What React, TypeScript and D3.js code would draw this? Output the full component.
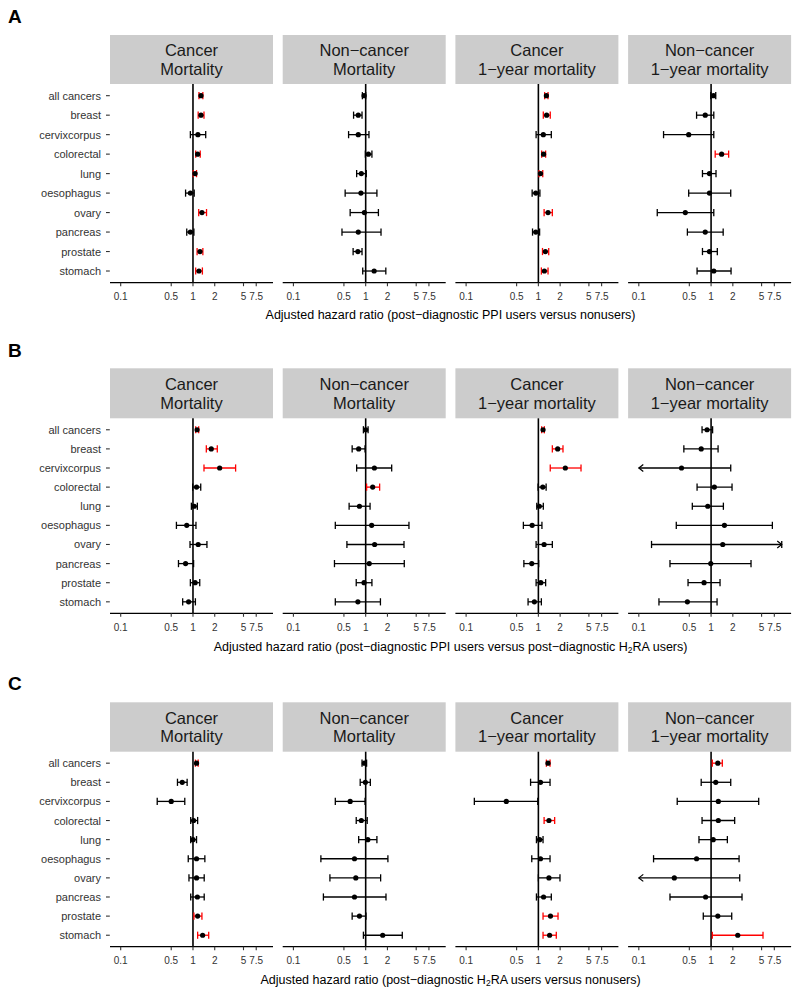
import React from "react";
import * as d3 from "d3";

// ---------- data ----------
const categories = [
  "all cancers",
  "breast",
  "cervixcorpus",
  "colorectal",
  "lung",
  "oesophagus",
  "ovary",
  "pancreas",
  "prostate",
  "stomach",
];

const facetTitles = [
  ["Cancer", "Mortality"],
  ["Non\u2212cancer", "Mortality"],
  ["Cancer", "1\u2212year mortality"],
  ["Non\u2212cancer", "1\u2212year mortality"],
];

const tickValues = [0.1, 0.5, 1, 2, 5, 7.5];
const tickLabels = ["0.1", "0.5", "1", "2", "5", "7.5"];
const panelLetters = ["A", "B", "C"];

// axis titles: odd-indexed pieces are subscripts
const titleA = ["Adjusted hazard ratio (post\u2212diagnostic PPI users versus nonusers)"];
const titleB = ["Adjusted hazard ratio (post\u2212diagnostic PPI users versus post\u2212diagnostic H", "2", "RA users)"];
const titleC = ["Adjusted hazard ratio (post\u2212diagnostic H", "2", "RA users versus nonusers)"];

// [hazard ratio, lower CI, upper CI], rows in category order
// A: post-diagnostic PPI users vs nonusers
const ppiNon_cancer = [
  [1.29, 1.21, 1.37], [1.29, 1.18, 1.42], [1.17, 0.92, 1.5], [1.16, 1.09, 1.26], [1.07, 1.01, 1.12],
  [0.92, 0.79, 1.04], [1.33, 1.2, 1.54], [0.92, 0.82, 1.03], [1.25, 1.14, 1.37], [1.21, 1.09, 1.35],
];
const ppiNon_noncancer = [
  [0.95, 0.9, 1.0], [0.79, 0.68, 0.89], [0.79, 0.58, 1.11], [1.09, 0.99, 1.22], [0.87, 0.75, 1.02],
  [0.86, 0.52, 1.43], [0.96, 0.61, 1.5], [0.79, 0.47, 1.63], [0.78, 0.67, 0.89], [1.31, 0.91, 1.9],
];
const ppiNon_cancer1y = [
  [1.29, 1.22, 1.36], [1.3, 1.17, 1.46], [1.17, 0.93, 1.51], [1.18, 1.11, 1.26], [1.07, 1.02, 1.15],
  [0.92, 0.82, 1.05], [1.36, 1.2, 1.56], [0.92, 0.83, 1.04], [1.25, 1.14, 1.39], [1.21, 1.1, 1.36],
];
const ppiNon_noncancer1y = [
  [1.08, 0.99, 1.16], [0.83, 0.63, 1.09], [0.49, 0.22, 1.09], [1.4, 1.14, 1.75], [0.95, 0.76, 1.17],
  [0.95, 0.49, 1.87], [0.44, 0.18, 1.09], [0.83, 0.47, 1.47], [0.95, 0.76, 1.22], [1.09, 0.64, 1.89],
];
// B: post-diagnostic PPI users vs post-diagnostic H2RA users
const ppiH2_cancer = [
  [1.14, 1.09, 1.2], [1.79, 1.53, 2.17], [2.34, 1.42, 3.89], [1.12, 0.99, 1.28], [1.04, 0.95, 1.15],
  [0.82, 0.59, 1.1], [1.18, 0.91, 1.56], [0.79, 0.63, 1.02], [1.07, 0.92, 1.24], [0.87, 0.72, 1.08],
];
const ppiH2_noncancer = [
  [1.0, 0.93, 1.08], [0.8, 0.65, 0.98], [1.32, 0.75, 2.29], [1.25, 1.03, 1.56], [0.82, 0.59, 1.15],
  [1.21, 0.38, 3.97], [1.33, 0.55, 3.39], [1.12, 0.37, 3.42], [0.95, 0.74, 1.22], [0.78, 0.38, 1.6],
];
const ppiH2_cancer1y = [
  [1.16, 1.11, 1.21], [1.85, 1.56, 2.19], [2.36, 1.46, 3.89], [1.15, 0.99, 1.28], [1.03, 0.95, 1.17],
  [0.82, 0.62, 1.12], [1.2, 0.93, 1.56], [0.81, 0.63, 1.01], [1.08, 0.93, 1.26], [0.88, 0.72, 1.1],
];
const ppiH2_noncancer1y = [
  [0.88, 0.75, 1.05], [0.73, 0.42, 1.25], [0.39, 0.05, 1.87], [1.11, 0.64, 1.95], [0.9, 0.55, 1.48],
  [1.53, 0.33, 7.05], [1.45, 0.15, 14.0], [0.99, 0.27, 3.57], [0.8, 0.48, 1.33], [0.47, 0.19, 1.21],
];
// C: post-diagnostic H2RA users vs nonusers
const h2Non_cancer = [
  [1.12, 1.08, 1.18], [0.71, 0.61, 0.83], [0.5, 0.32, 0.77], [1.02, 0.93, 1.16], [1.0, 0.93, 1.12],
  [1.12, 0.86, 1.46], [1.12, 0.88, 1.43], [1.15, 0.93, 1.43], [1.16, 1.03, 1.33], [1.36, 1.16, 1.65],
];
const h2Non_noncancer = [
  [0.96, 0.89, 1.03], [0.99, 0.84, 1.16], [0.61, 0.38, 0.98], [0.87, 0.74, 1.05], [1.07, 0.8, 1.43],
  [0.7, 0.24, 2.03], [0.73, 0.32, 1.61], [0.7, 0.26, 1.91], [0.82, 0.65, 1.01], [1.72, 0.93, 3.21],
];
const h2Non_cancer1y = [
  [1.36, 1.29, 1.45], [1.07, 0.78, 1.45], [0.36, 0.13, 0.98], [1.4, 1.2, 1.68], [1.04, 0.94, 1.16],
  [1.07, 0.81, 1.45], [1.4, 1.0, 1.99], [1.18, 0.94, 1.51], [1.47, 1.16, 1.87], [1.43, 1.16, 1.77],
];
const h2Non_noncancer1y = [
  [1.24, 1.04, 1.43], [1.16, 0.73, 1.87], [1.26, 0.34, 4.56], [1.26, 0.75, 2.12], [1.07, 0.68, 1.68],
  [0.63, 0.16, 2.44], [0.31, 0.04, 2.49], [0.84, 0.27, 2.68], [1.24, 0.78, 1.93], [2.34, 1.04, 5.23],
];

const CLIP_LO = 0.1;
const CLIP_HI = 9.5;

const blocks = [
  { letter: panelLetters[0], title: titleA, facets: [ppiNon_cancer, ppiNon_noncancer, ppiNon_cancer1y, ppiNon_noncancer1y] },
  { letter: panelLetters[1], title: titleB, facets: [ppiH2_cancer, ppiH2_noncancer, ppiH2_cancer1y, ppiH2_noncancer1y] },
  { letter: panelLetters[2], title: titleC, facets: [h2Non_cancer, h2Non_noncancer, h2Non_cancer1y, h2Non_noncancer1y] },
];

// ---------- layout ----------
const W = 800;
const H = 995;
const FONT = "'Liberation Sans', Arial, Helvetica, sans-serif";
const geoms = [
  { letterY: 16, stripTop: 35, stripBottom: 84, axisY: 282.7, tickY: 296.5, titleY: 315 },
  { letterY: 350, stripTop: 368.3, stripBottom: 418.3, axisY: 613.3, tickY: 627, titleY: 647 },
  { letterY: 683, stripTop: 702.3, stripBottom: 751.7, axisY: 946.7, tickY: 960.5, titleY: 980 },
];
const panelLeft0 = 110;
const panelW = 163;
const panelGap = 9.7;
const RED = "#ff0000";

function Panel({ data, left, g, facetIdx }) {
  const x = d3.scaleLog().domain([0.0711, 12.8]).range([left, left + panelW]);
  const y = d3.scalePoint().domain(categories).range([g.stripBottom, g.axisY]).padding(0.6);
  const [l1, l2] = facetTitles[facetIdx];
  const sc = (g.stripTop + g.stripBottom) / 2;
  const capH = 3.6;
  return (
    <g>
      <rect x={left} y={g.stripTop} width={panelW} height={g.stripBottom - g.stripTop} fill="#cccccc" />
      <text x={left + panelW / 2} y={sc - 9.2} textAnchor="middle" dominantBaseline="central" fontSize={16.5} fill="#1a1a1a">{l1}</text>
      <text x={left + panelW / 2} y={sc + 9.2} textAnchor="middle" dominantBaseline="central" fontSize={16.5} fill="#1a1a1a">{l2}</text>
      {/* reference line */}
      <line x1={x(1)} x2={x(1)} y1={g.stripBottom} y2={g.axisY} stroke="#000" strokeWidth={1.6} />
      {/* x axis */}
      <line x1={left} x2={left + panelW} y1={g.axisY} y2={g.axisY} stroke="#000" strokeWidth={1.3} />
      {tickValues.map((t, i) => (
        <g key={i}>
          <line x1={x(t)} x2={x(t)} y1={g.axisY} y2={g.axisY + 3.5} stroke="#333" strokeWidth={1.1} />
          <text x={x(t)} y={g.tickY} textAnchor="middle" dominantBaseline="central" fontSize={10} fill="#333">{tickLabels[i]}</text>
        </g>
      ))}
      {data.map((d, i) => {
        const [est, lo, hi] = d;
        const yy = y(categories[i]);
        const col = lo > 1 ? RED : "#000";
        const loClip = lo < CLIP_LO;
        const hiClip = hi > CLIP_HI;
        const xl = x(Math.max(lo, CLIP_LO));
        const xh = x(Math.min(hi, CLIP_HI));
        return (
          <g key={i}>
            <line x1={xl} x2={xh} y1={yy} y2={yy} stroke={col} strokeWidth={1.3} />
            {!loClip && <line x1={xl} x2={xl} y1={yy - capH} y2={yy + capH} stroke={col} strokeWidth={1.3} />}
            <line x1={xh} x2={xh} y1={yy - capH} y2={yy + capH} stroke={col} strokeWidth={1.3} />
            {loClip && (
              <path d={`M${xl + 4.5},${yy - 3.5}L${xl},${yy}L${xl + 4.5},${yy + 3.5}`} fill="none" stroke={col} strokeWidth={1.2} />
            )}
            {hiClip && (
              <path d={`M${xh - 4.5},${yy - 3.5}L${xh},${yy}L${xh - 4.5},${yy + 3.5}`} fill="none" stroke={col} strokeWidth={1.2} />
            )}
            <circle cx={x(est)} cy={yy} r={2.6} fill="#000" />
          </g>
        );
      })}
    </g>
  );
}

function Block({ block, g }) {
  const y = d3.scalePoint().domain(categories).range([g.stripBottom, g.axisY]).padding(0.6);
  const lefts = facetTitles.map((_, i) => panelLeft0 + i * (panelW + panelGap));
  const center = (panelLeft0 + lefts[3] + panelW) / 2;
  return (
    <g>
      <text x={8} y={g.letterY} dominantBaseline="central" fontSize={19} fontWeight="bold" fill="#000">{block.letter}</text>
      {categories.map((c) => (
        <g key={c}>
          <text x={101} y={y(c)} textAnchor="end" dominantBaseline="central" fontSize={11} fill="#333">{c}</text>
          <line x1={106} x2={109.8} y1={y(c)} y2={y(c)} stroke="#333" strokeWidth={1.1} />
        </g>
      ))}
      {block.facets.map((data, i) => (
        <Panel key={i} data={data} left={lefts[i]} g={g} facetIdx={i} />
      ))}
      <text x={center} y={g.titleY} textAnchor="middle" dominantBaseline="central" fontSize={12.5} fill="#000">
        {block.title.map((s, i) =>
          i % 2 === 1 ? (
            <tspan key={i} fontSize={8.5} dy={3}>{s}</tspan>
          ) : (
            <tspan key={i} dy={i === 0 ? 0 : -3}>{s}</tspan>
          )
        )}
      </text>
    </g>
  );
}

export default function App() {
  return (
    <svg
      width={W}
      height={H}
      viewBox={`0 0 ${W} ${H}`}
      style={{ position: "absolute", left: 0, top: 0, display: "block", background: "#fff" }}
      fontFamily={FONT}
    >
      <rect x={0} y={0} width={W} height={H} fill="#fff" />
      {blocks.map((b, i) => (
        <Block key={i} block={b} g={geoms[i]} />
      ))}
    </svg>
  );
}
